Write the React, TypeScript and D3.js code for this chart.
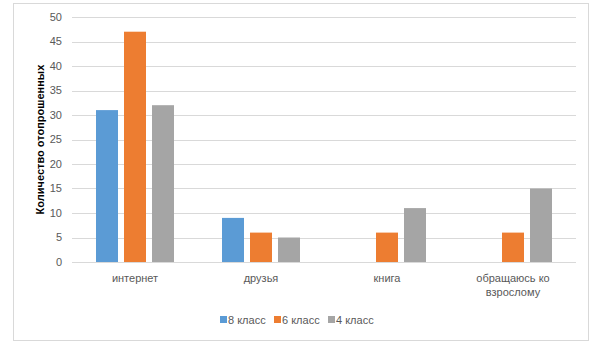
import React from "react";
import * as d3 from "d3";

const categories = ["интернет", "друзья", "книга", "обращаюсь ко взрослому"];
const categoryLines = [["интернет"], ["друзья"], ["книга"], ["обращаюсь ко", "взрослому"]];
const seriesNames = ["8 класс", "6 класс", "4 класс"];
const series8 = [31, 9, 0, 0];
const series6 = [47, 6, 6, 6];
const series4 = [32, 5, 11, 15];
const colors = ["#5B9BD5", "#ED7D31", "#A5A5A5"];
const yTicks = [0, 5, 10, 15, 20, 25, 30, 35, 40, 45, 50];
const yTitle = "Количество отопрошенных";

export default function App() {
  const W = 598, H = 345;
  const left = 72, right = 576, top = 17, bottom = 262;
  const allSeries = [series8, series6, series4];
  const x0 = d3.scaleBand<string>().domain(categories).range([left, right]).paddingInner(0).paddingOuter(0);
  const inner = d3.scaleBand<string>().domain(seriesNames).range([24, x0.bandwidth() - 24]).paddingInner(6 / 28).paddingOuter(0);
  const y = d3.scaleLinear().domain([0, 50]).range([bottom, top]);
  const font = "'Liberation Sans', Arial, sans-serif";
  const legendX = [220, 274, 328];
  return (
    <svg width={W} height={H} style={{ position: "absolute", left: 0, top: 0, background: "#fff" }} fontFamily={font}>
      <rect x={13.5} y={3.5} width={575} height={337} fill="#fff" stroke="#D9D9D9" />
      {yTicks.map((t) => (
        <g key={t}>
          <line x1={left} x2={right} y1={Math.round(y(t)) + 0.5} y2={Math.round(y(t)) + 0.5} stroke="#D9D9D9" />
          <text x={62} y={y(t)} dy="0.35em" textAnchor="end" fontSize={11} fill="#595959">{t}</text>
        </g>
      ))}
      {categories.map((c, ci) => (
        <g key={c} transform={`translate(${x0(c)},0)`}>
          {allSeries.map((s, si) => (
            <rect key={si} x={inner(seriesNames[si])} width={inner.bandwidth()} y={y(s[ci])} height={bottom - y(s[ci])} fill={colors[si]} />
          ))}
          {categoryLines[ci].map((line, li) => (
            <text key={li} x={x0.bandwidth() / 2} y={278 + li * 14} dy="0.35em" textAnchor="middle" fontSize={11} fill="#595959">{line}</text>
          ))}
        </g>
      ))}
      <text transform={`translate(40,${(top + bottom) / 2}) rotate(-90)`} textAnchor="middle" dy="0.35em" fontSize={11} fontWeight="bold" fill="#000">{yTitle}</text>
      {seriesNames.map((n, i) => (
        <g key={n}>
          <rect x={legendX[i]} y={316} width={7} height={7} fill={colors[i]} />
          <text x={legendX[i] + 8} y={320} dy="0.35em" fontSize={11} fill="#595959">{n}</text>
        </g>
      ))}
    </svg>
  );
}
